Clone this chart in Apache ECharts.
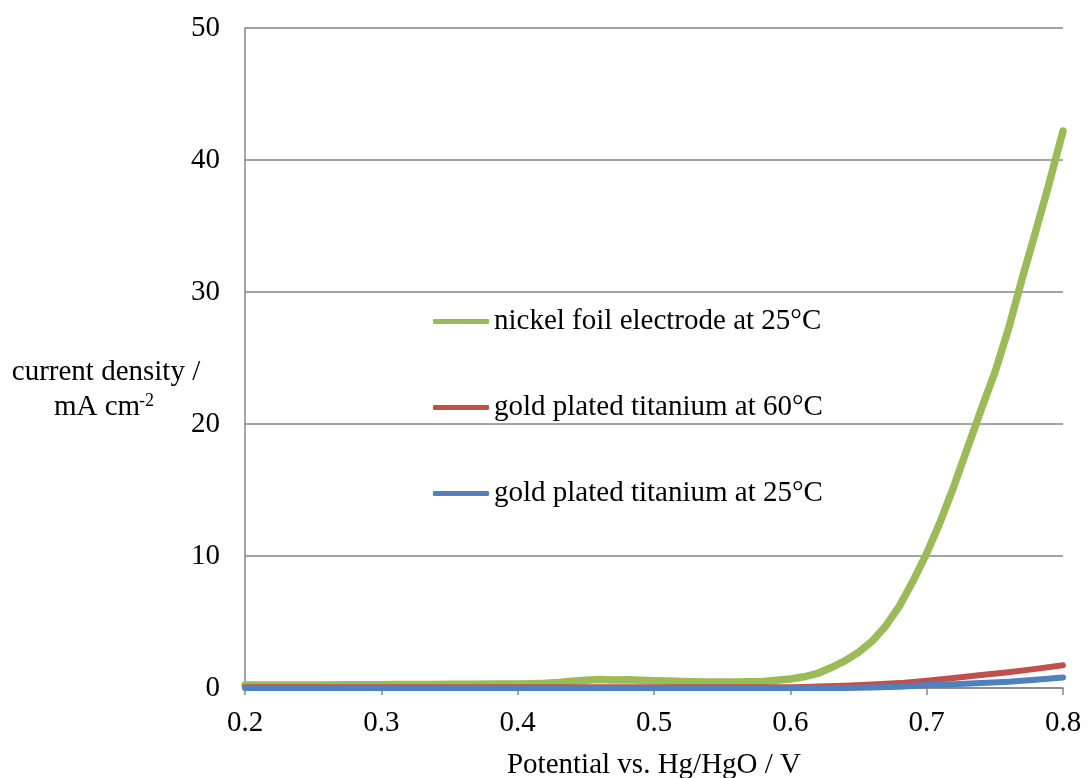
<!DOCTYPE html>
<html>
<head>
<meta charset="utf-8">
<script src="https://cdn.jsdelivr.net/npm/echarts@6/dist/echarts.min.js"></script>
<style>html,body{margin:0;padding:0;background:#fff;}#c{width:1087px;height:778px;}</style>
</head>
<body>
<div id="c"></div>
<script>
// Potential (V vs Hg/HgO) and current density (mA cm-2)
const nickelPotential = [0.20,0.21,0.22,0.23,0.24,0.25,0.26,0.27,0.28,0.29,0.30,0.31,0.32,0.33,0.34,0.35,0.36,0.37,0.38,0.39,0.40,0.41,0.42,0.43,0.44,0.45,0.46,0.47,0.48,0.49,0.50,0.51,0.52,0.53,0.54,0.55,0.56,0.57,0.58,0.59,0.60,0.61,0.62,0.63,0.64,0.65,0.66,0.67,0.68,0.69,0.70,0.71,0.72,0.73,0.74,0.75,0.76,0.77,0.78,0.79,0.80];
const nickelCurrent = [0.22,0.22,0.22,0.23,0.22,0.23,0.23,0.24,0.24,0.25,0.25,0.26,0.26,0.27,0.27,0.28,0.28,0.29,0.30,0.30,0.31,0.33,0.36,0.42,0.52,0.58,0.64,0.60,0.63,0.58,0.55,0.53,0.50,0.47,0.46,0.45,0.46,0.47,0.50,0.58,0.68,0.85,1.10,1.55,2.05,2.70,3.55,4.70,6.20,8.10,10.20,12.60,15.30,18.20,21.10,23.90,27.20,31.00,34.60,38.30,42.20];

const goldPotential = [0.20,0.30,0.40,0.50,0.60,0.61,0.62,0.64,0.66,0.68,0.70,0.72,0.74,0.76,0.78,0.80];
const gold60Current = [0.05,0.05,0.05,0.05,0.05,0.08,0.12,0.18,0.26,0.37,0.55,0.75,0.98,1.20,1.45,1.72];
const gold25Current = [0.00,0.00,0.00,0.00,0.00,0.00,0.00,0.00,0.04,0.10,0.20,0.28,0.37,0.48,0.62,0.80];

const seriesNames = ['nickel foil electrode at 25°C','gold plated titanium at 60°C','gold plated titanium at 25°C'];
const xTicks = {min:0.2, max:0.8, interval:0.1};
const yTicks = {min:0, max:50, interval:10};

const zip = (a,b) => a.map((v,i)=>[v,b[i]]);
const FONT = "'Liberation Serif','Times New Roman',serif";
const AX = '#868686';
const FS = 29;

const chart = echarts.init(document.getElementById('c'));
chart.setOption({
  animation:false,
  backgroundColor:'#fff',
  grid:{left:245,right:24,top:28,bottom:90,containLabel:false,outerBoundsMode:'none'},
  legend:{
    orient:'vertical', left:428, top:302, padding:5,
    icon:'roundRect',
    itemWidth:56, itemHeight:5, itemGap:57,
    textStyle:{fontFamily:FONT,fontSize:FS,color:'#000',lineHeight:29},
    data:seriesNames
  },
  xAxis:{
    type:'value', min:xTicks.min, max:xTicks.max, interval:xTicks.interval,
    name:'Potential vs. Hg/HgO / V', nameLocation:'middle', nameGap:63,
    nameTextStyle:{fontFamily:FONT,fontSize:FS,color:'#000'},
    axisLine:{show:true,lineStyle:{color:AX,width:1.5}},
    axisTick:{show:true,inside:false,length:7,lineStyle:{color:AX,width:1.5}},
    axisLabel:{margin:21,fontFamily:FONT,fontSize:FS,color:'#000',formatter:v=>v.toFixed(1)},
    splitLine:{show:false}
  },
  yAxis:{
    type:'value', min:yTicks.min, max:yTicks.max, interval:yTicks.interval,
    axisLine:{show:true,lineStyle:{color:AX,width:1.5}},
    axisTick:{show:false},
    axisLabel:{margin:25,fontFamily:FONT,fontSize:FS,color:'#000'},
    splitLine:{show:true,lineStyle:{color:AX,width:1.5}}
  },
  graphic:[
    {type:'text',x:106,y:372,style:{text:'current density /',fill:'#000',font:FS+"px 'Liberation Serif'",textAlign:'center',textVerticalAlign:'middle'}},
    {type:'text',x:54,y:407,style:{text:'mA cm',fill:'#000',font:FS+"px 'Liberation Serif'",textAlign:'left',textVerticalAlign:'middle'}},
    {type:'text',x:139,y:392,style:{text:'-2',fill:'#000',font:"18px 'Liberation Serif'",textAlign:'left',textVerticalAlign:'top'}}
  ],
  series:[
    {name:seriesNames[0],type:'line',data:zip(nickelPotential,nickelCurrent),symbol:'none',
     lineStyle:{color:'#9BBB59',width:7.5,cap:'round',join:'round'},itemStyle:{color:'#9BBB59'}},
    {name:seriesNames[1],type:'line',data:zip(goldPotential,gold60Current),symbol:'none',
     lineStyle:{color:'#C0504D',width:6,cap:'round',join:'round'},itemStyle:{color:'#C0504D'}},
    {name:seriesNames[2],type:'line',data:zip(goldPotential,gold25Current),symbol:'none',
     lineStyle:{color:'#4F81BD',width:6,cap:'round',join:'round'},itemStyle:{color:'#4F81BD'}}
  ]
});
</script>
</body>
</html>
